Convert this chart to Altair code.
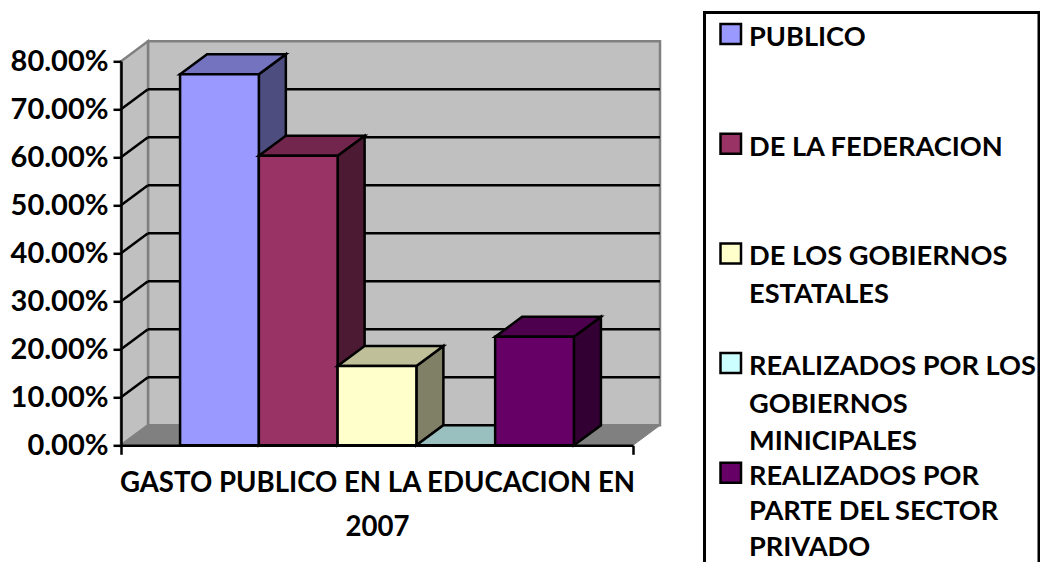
import altair as alt
import pandas as pd

# ---- values
chart_title = ["GASTO PUBLICO EN LA EDUCACION EN", "2007"]
series_lines = [
    ["PUBLICO"],
    ["DE LA FEDERACION"],
    ["DE LOS GOBIERNOS", "ESTATALES"],
    ["REALIZADOS POR LOS", "GOBIERNOS", "MINICIPALES"],
    ["REALIZADOS POR", "PARTE DEL SECTOR", "PRIVADO"],
]
series_values = [0.773, 0.603, 0.165, 0.0, 0.226]
front_colors = ["#9999FF", "#993366", "#FFFFCC", "#CCFFFF", "#660066"]
top_colors = ["#7373BF", "#73264D", "#BFBF99", "#99BFBF", "#4D004D"]
side_colors = ["#4D4D80", "#4D1A33", "#808066", "#668080", "#330033"]
grid_values = [0.1 * i for i in range(1, 8)]
tick_values = [0.1 * i for i in range(0, 9)]

# ---- layout
FONT = "Lato"
FS = 27.6
LEGEND_FS = 27.2
LW = 2.5
VIEW_W, VIEW_H = 512, 384
LEFT_PX, BASE_PX = 121, 445.3
XU = VIEW_W / 6.5
YU = VIEW_H / 0.8
DX = 27 / XU
DY = 20 / YU
XMAX, YMAX = 6.5, 0.8


def px_x(p):
    return (p - LEFT_PX) / XU


def px_y(p):
    return (BASE_PX - p) / YU


xs = alt.Scale(domain=[0, XMAX], nice=False, zero=False)
ys = alt.Scale(domain=[0, YMAX], nice=False, zero=False)
x_axis = alt.Axis(
    title=chart_title, values=[0, XMAX], labels=False, grid=False,
    tickSize=9, tickWidth=LW, tickColor="black",
    domainWidth=LW, domainColor="black",
    titleFont=FONT, titleFontSize=FS, titleFontWeight="bold",
    titleColor="black", titleLineHeight=44, titlePadding=14, zindex=1,
)
y_axis = alt.Axis(
    title=None, values=tick_values, format=".2%", grid=False,
    tickSize=8, tickWidth=LW, tickColor="black",
    domainWidth=LW, domainColor="black",
    labelFont=FONT, labelFontSize=29, labelFontWeight="bold",
    labelColor="black", labelPadding=5, zindex=1,
)
X = alt.X("x:Q", scale=xs, axis=x_axis)
Y = alt.Y("y:Q", scale=ys, axis=y_axis)
X2 = alt.X2("x2:Q")
Y2 = alt.Y2("y2:Q")
GREY = "#808080"
WALL = "#C0C0C0"

layers = []

# back wall
layers.append(
    alt.Chart(pd.DataFrame([{"x": DX, "x2": XMAX + DX, "y": DY, "y2": YMAX + DY}]))
    .mark_rect(fill=WALL, stroke=GREY, strokeWidth=LW)
    .encode(x=X, x2=X2, y=Y, y2=Y2)
)

# side wall
layers.append(
    alt.Chart(pd.DataFrame([
        {"x": 0, "y": 0, "y2": YMAX},
        {"x": DX, "y": DY, "y2": YMAX + DY},
    ]))
    .mark_area(fill=WALL, stroke=GREY, strokeWidth=LW, orient="vertical")
    .encode(x=X, y=Y, y2=Y2)
)

# floor
layers.append(
    alt.Chart(pd.DataFrame([
        {"y": 0, "x": 0, "x2": XMAX},
        {"y": DY, "x": DX, "x2": XMAX + DX},
    ]))
    .mark_area(fill=GREY, stroke=GREY, strokeWidth=1, orient="horizontal")
    .encode(x=X, x2=X2, y=Y)
)

# gridlines on the back wall and down the side wall
grid_back = pd.DataFrame([
    {"x": DX, "x2": XMAX + DX, "y": v + DY, "y2": v + DY} for v in grid_values
])
grid_side = pd.DataFrame([
    {"x": 0, "x2": DX, "y": v, "y2": v + DY} for v in grid_values
])
for frame in (grid_back, grid_side):
    layers.append(
        alt.Chart(frame)
        .mark_rule(color="black", strokeWidth=LW)
        .encode(x=X, x2=X2, y=Y, y2=Y2)
    )

# bars: side, top, front, one bar after the other
for i, v in enumerate(series_values):
    x0 = 0.75 + i
    x1 = x0 + 1
    layers.append(
        alt.Chart(pd.DataFrame([
            {"x": x1, "y": 0, "y2": v},
            {"x": x1 + DX, "y": DY, "y2": v + DY},
        ]))
        .mark_area(fill=side_colors[i], stroke="black", strokeWidth=LW, orient="vertical")
        .encode(x=X, y=Y, y2=Y2)
    )
    layers.append(
        alt.Chart(pd.DataFrame([
            {"y": v, "x": x0, "x2": x1},
            {"y": v + DY, "x": x0 + DX, "x2": x1 + DX},
        ]))
        .mark_area(fill=top_colors[i], stroke="black", strokeWidth=LW, orient="horizontal")
        .encode(x=X, x2=X2, y=Y)
    )
    layers.append(
        alt.Chart(pd.DataFrame([{"x": x0, "x2": x1, "y": 0, "y2": v}]))
        .mark_rect(fill=front_colors[i], stroke="black", strokeWidth=LW)
        .encode(x=X, x2=X2, y=Y, y2=Y2)
    )

# legend
layers.append(
    alt.Chart(pd.DataFrame([{
        "x": px_x(704.5), "x2": px_x(1039), "y": px_y(12.5), "y2": px_y(590),
    }]))
    .mark_rect(fill="white", stroke="black", strokeWidth=LW + 0.5)
    .encode(x=X, x2=X2, y=Y, y2=Y2)
)
STEP, LINE = 109.7, 37.5
swatches, texts = [], []
for i, lines in enumerate(series_lines):
    cy = 34 + STEP * i
    # the last entry is set a little tighter so that it stays inside the page
    line_gap = LINE if i < len(series_lines) - 1 else 35.5
    swatches.append({
        "x": px_x(720.5), "x2": px_x(741), "y": px_y(cy - 10), "y2": px_y(cy + 10),
        "c": front_colors[i], "k": i,
    })
    for j, t in enumerate(lines):
        texts.append({"x": px_x(749), "y": px_y(cy + 4 + line_gap * j), "t": t})
layers.append(
    alt.Chart(pd.DataFrame(swatches))
    .mark_rect(stroke="black", strokeWidth=LW)
    .encode(x=X, x2=X2, y=Y, y2=Y2, fill=alt.Fill("c:N", scale=None))
)
layers.append(
    alt.Chart(pd.DataFrame(texts))
    .mark_text(font=FONT, fontSize=LEGEND_FS, fontWeight="bold", color="black",
               align="left", baseline="middle")
    .encode(x=X, y=Y, text="t:N")
)

chart = (
    alt.layer(*layers)
    .properties(
        width=VIEW_W,
        height=VIEW_H,
        background="white",
        padding={"left": LEFT_PX - 8, "top": 53.3, "right": 407, "bottom": 116.7},
        autosize=alt.AutoSizeParams(type="none"),
    )
    .configure_view(stroke=None)
)
chart.save("out.html", embed_options={"renderer": "svg", "actions": False})
